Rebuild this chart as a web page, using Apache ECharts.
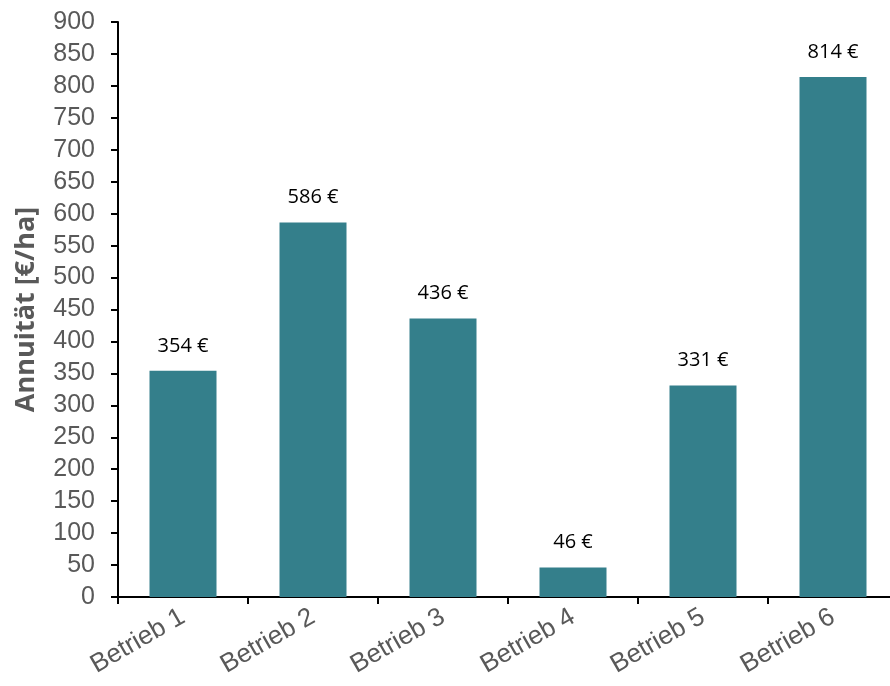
<!DOCTYPE html>
<html>
<head>
<meta charset="utf-8">
<script src="https://cdn.jsdelivr.net/npm/echarts@6/dist/echarts.min.js"></script>
<style>
  html, body { margin: 0; padding: 0; background: #fff; }
  #chart { width: 890px; height: 686px; }
</style>
</head>
<body>
<div id="chart"></div>
<script>
// Kategorien und Werte (Annuität in €/ha)
const betriebe = ["Betrieb 1", "Betrieb 2", "Betrieb 3", "Betrieb 4", "Betrieb 5", "Betrieb 6"];
const annuitaet = [354, 586, 436, 46, 331, 814];

const myChart = echarts.init(document.getElementById("chart"));

const options = {
  animation: false,
  // Achsenbereich ragt etwas über den rechten Rand hinaus (wie im Original)
  grid: {
    left: 118,
    top: 22,
    right: -8,
    bottom: 89,
    outerBoundsMode: "none",
  },
  xAxis: {
    type: "category",
    data: betriebe,
    axisLine: { lineStyle: { color: "#000", width: 2 } },
    axisTick: { show: true, length: 7, lineStyle: { color: "#000", width: 2 } },
    axisLabel: {
      rotate: 30,
      margin: 18,
      color: "#595959",
      fontFamily: "Liberation Sans, Arial",
      fontSize: 26,
    },
  },
  yAxis: {
    type: "value",
    min: 0,
    max: 900,
    interval: 50,
    name: "Annuität [€/ha]",
    nameLocation: "middle",
    nameGap: 78,
    nameTextStyle: {
      color: "#595959",
      fontFamily: "Open Sans",
      fontSize: 27,
      fontWeight: "bold",
    },
    axisLine: { show: true, lineStyle: { color: "#000", width: 2 } },
    axisTick: { show: true, length: 7, lineStyle: { color: "#000", width: 2 } },
    axisLabel: {
      color: "#595959",
      fontFamily: "Liberation Sans, Arial",
      fontSize: 25,
      margin: 23,
    },
    splitLine: { show: false },
  },
  series: [
    {
      type: "bar",
      data: annuitaet,
      barWidth: 67,
      itemStyle: { color: "#347F8B" },
      label: {
        show: true,
        position: "top",
        distance: 15,
        color: "#000",
        fontFamily: "Open Sans, Noto Sans",
        fontSize: 20,
        formatter: "{c} €",
      },
    },
  ],
};

myChart.setOption(options);
</script>
</body>
</html>
